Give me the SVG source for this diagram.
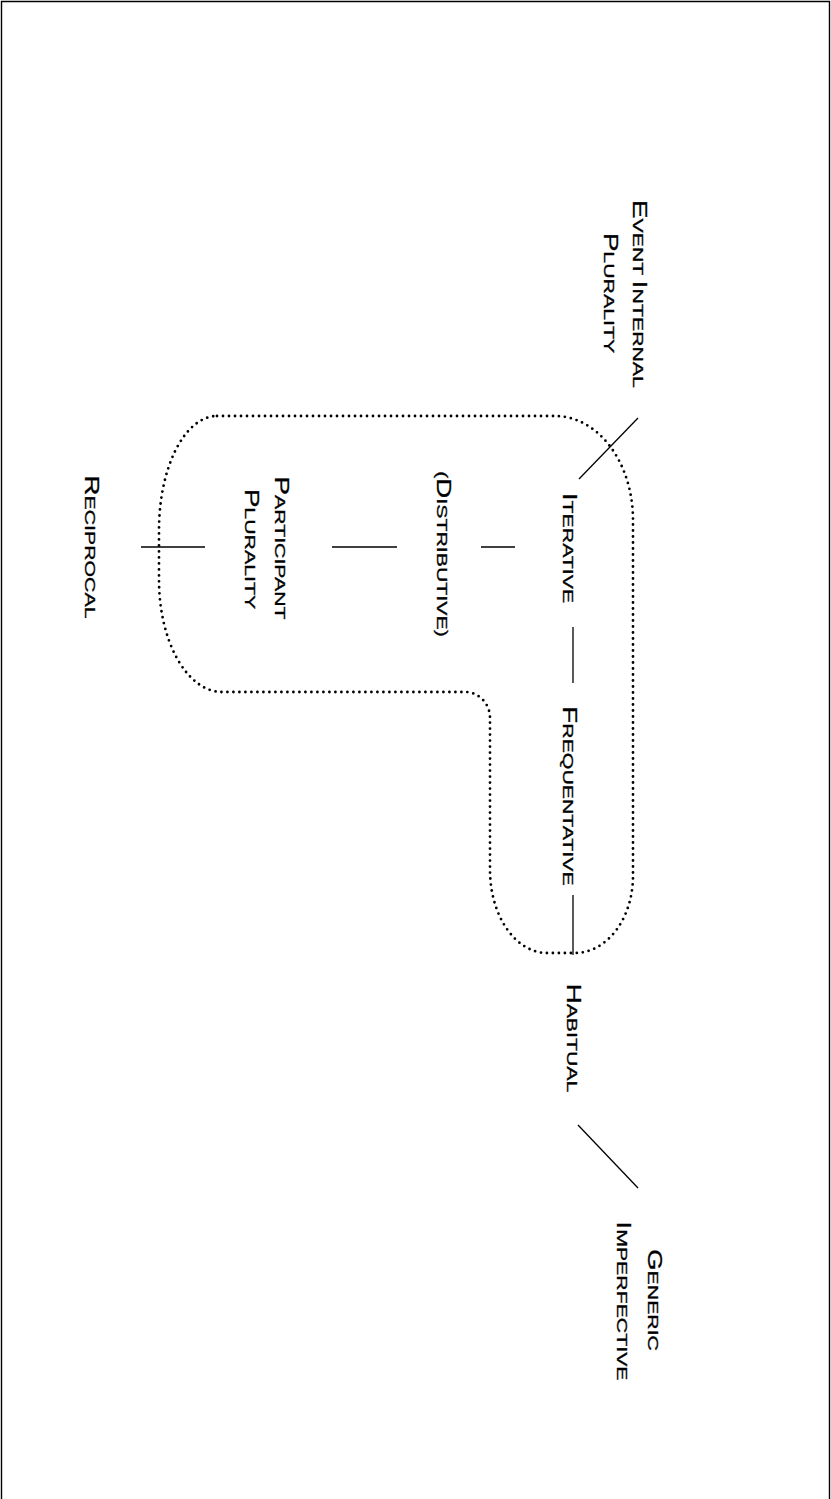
<svg xmlns="http://www.w3.org/2000/svg" width="831" height="1499" viewBox="0 0 831 1499">
  <style>
    text { font-family: "Liberation Sans", Arial, sans-serif; fill: #000; stroke: #000; stroke-width: 0.3; text-anchor: middle; }
    .b { font-size: 19.5px; }
    .s { font-size: 15px; }
    .link { stroke: #000; stroke-width: 1.3; fill: none; }
    .group { stroke: #000; stroke-width: 2.8; fill: none; stroke-linecap: round; stroke-dasharray: 0 6; }
    .frame { stroke: #000; stroke-width: 1.4; fill: none; }
  </style>

  <rect width="831" height="1499" fill="#fff"/>
  <path class="frame" d="M1.5 1500 V1.5 H829.5 V1500"/>

  <!-- dotted grouping outline -->
  <path id="grouping" class="group" d="M217 416 L555 416 A78 104 0 0 1 633 520 L633 876 A58 77 0 0 1 575 953 L547 953 A57 83 0 0 1 490 870 L490 718 A25 26 0 0 0 465 692 L222 692 A63 112 0 0 1 159 580 L159 530 A58 114 0 0 1 217 416 Z"/>

  <g id="connectors">
    <line class="link" x1="638" y1="418" x2="579" y2="479"/>
    <line class="link" x1="481" y1="547" x2="515" y2="547"/>
    <line class="link" x1="332" y1="547" x2="397" y2="547"/>
    <line class="link" x1="141" y1="547" x2="205" y2="547"/>
    <line class="link" x1="573" y1="627" x2="573" y2="683"/>
    <line class="link" x1="573" y1="895" x2="573" y2="955"/>
    <line class="link" x1="578" y1="1125" x2="638" y2="1188"/>
  </g>

  <g id="event-internal-plurality">
    <text transform="translate(633,294) rotate(90) scale(1.42,1)"><tspan class="b">E</tspan><tspan class="s">VENT </tspan><tspan class="b">I</tspan><tspan class="s">NTERNAL</tspan></text>
    <text transform="translate(604,293) rotate(90) scale(1.42,1)"><tspan class="b">P</tspan><tspan class="s">LURALITY</tspan></text>
  </g>

  <g id="iterative">
    <text transform="translate(563,548) rotate(90) scale(1.42,1)"><tspan class="b">I</tspan><tspan class="s">TERATIVE</tspan></text>
  </g>

  <g id="distributive">
    <text transform="translate(437,554) rotate(90) scale(1.42,1)"><tspan class="s">(</tspan><tspan class="b">D</tspan><tspan class="s">ISTRIBUTIVE)</tspan></text>
  </g>

  <g id="participant-plurality">
    <text transform="translate(275,548) rotate(90) scale(1.42,1)"><tspan class="b">P</tspan><tspan class="s">ARTICIPANT</tspan></text>
    <text transform="translate(245,549) rotate(90) scale(1.42,1)"><tspan class="b">P</tspan><tspan class="s">LURALITY</tspan></text>
  </g>

  <g id="reciprocal">
    <text transform="translate(85,547) rotate(90) scale(1.42,1)"><tspan class="b">R</tspan><tspan class="s">ECIPROCAL</tspan></text>
  </g>

  <g id="frequentative">
    <text transform="translate(563,796) rotate(90) scale(1.42,1)"><tspan class="b">F</tspan><tspan class="s">REQUENTATIVE</tspan></text>
  </g>

  <g id="habitual">
    <text transform="translate(567,1038) rotate(90) scale(1.42,1)"><tspan class="b">H</tspan><tspan class="s">ABITUAL</tspan></text>
  </g>

  <g id="generic-imperfective">
    <text transform="translate(648,1300) rotate(90) scale(1.42,1)"><tspan class="b">G</tspan><tspan class="s">ENERIC</tspan></text>
    <text transform="translate(617,1301) rotate(90) scale(1.42,1)"><tspan class="b">I</tspan><tspan class="s">MPERFECTIVE</tspan></text>
  </g>
</svg>
